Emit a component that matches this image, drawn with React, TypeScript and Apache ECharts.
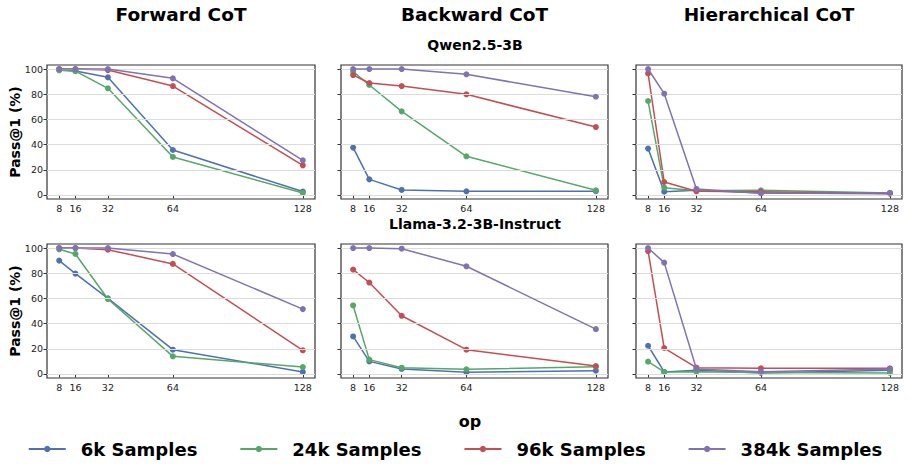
import React, { useEffect, useRef } from "react";
import * as echarts from "echarts";

// x positions (number of operations)
const opCounts = [8, 16, 32, 64, 128];
const yTicks = [0, 20, 40, 60, 80, 100];

const sampleSizes = ["6k Samples", "24k Samples", "96k Samples", "384k Samples"];
const palette = ["#4C72B0", "#55A868", "#C44E52", "#8172B2"];

const columnTitles = ["Forward CoT", "Backward CoT", "Hierarchical CoT"];
const rowTitles = ["Qwen2.5-3B", "Llama-3.2-3B-Instruct"];

// Pass@1 (%) per sample size: 6k, 24k, 96k, 384k
const qwenForward = [
  [99.5, 98.5, 93.4, 35.7, 2.7],
  [99.0, 98.3, 84.7, 30.2, 1.6],
  [100, 100, 99.2, 86.5, 23.5],
  [100, 100, 100, 92.6, 27.5],
];
const qwenBackward = [
  [37.6, 12.4, 4.0, 2.9, 3.0],
  [97.9, 87.3, 66.4, 30.7, 3.7],
  [95.2, 88.9, 86.5, 79.9, 53.9],
  [100, 100, 100, 95.8, 78.0],
];
const qwenHierarchical = [
  [36.8, 2.6, 3.7, 1.5, 1.0],
  [74.6, 5.8, 3.4, 3.7, 1.5],
  [96.5, 10.3, 2.9, 2.5, 1.2],
  [100, 80.4, 4.8, 1.3, 1.6],
];
const llamaForward = [
  [90.0, 79.7, 60.0, 19.3, 1.6],
  [99.0, 95.3, 59.5, 14.0, 5.5],
  [100, 100, 98.7, 87.4, 18.8],
  [100, 100, 100, 95.2, 51.5],
];
const llamaBackward = [
  [29.8, 10.0, 4.0, 1.3, 2.6],
  [54.4, 11.4, 5.0, 3.7, 5.8],
  [82.9, 72.6, 46.2, 19.3, 6.3],
  [100, 100, 99.5, 85.5, 35.6],
];
const llamaHierarchical = [
  [22.4, 1.6, 2.9, 0.8, 2.9],
  [9.8, 1.6, 1.8, 1.2, 0.8],
  [97.6, 20.6, 5.0, 4.5, 4.5],
  [100, 88.4, 4.0, 1.8, 4.0],
];

const panels = [
  qwenForward,
  qwenBackward,
  qwenHierarchical,
  llamaForward,
  llamaBackward,
  llamaHierarchical,
];

const FONT = "DejaVu Sans";
const colLeft = [47, 341, 636];
const colWidth = [268, 267, 266];
const rowTop = [65, 244];
const panelHeight = 134;

export default function App() {
  const ref = useRef<HTMLDivElement>(null);

  useEffect(() => {
    if (!ref.current) return;
    const chart = echarts.init(ref.current, null, { renderer: "svg" });

    const grids: any[] = [];
    const xAxes: any[] = [];
    const yAxes: any[] = [];
    const series: any[] = [];

    panels.forEach((panel, idx) => {
      const row = Math.floor(idx / 3);
      const col = idx % 3;
      grids.push({
        left: colLeft[col],
        top: rowTop[row],
        width: colWidth[col],
        height: panelHeight,
        show: true,
        borderColor: "#333",
        borderWidth: 1.2,
        backgroundColor: "transparent",
        outerBoundsMode: "none",
        containLabel: false,
      });
      xAxes.push({
        type: "value",
        gridIndex: idx,
        min: 2,
        max: 134,
        axisLine: { show: false },
        splitLine: { show: false },
        axisTick: {
          show: true,
          length: 3.5,
          customValues: opCounts,
          lineStyle: { color: "#333", width: 1 },
        },
        axisLabel: {
          show: true,
          customValues: opCounts,
          margin: 4,
          fontFamily: FONT,
          fontSize: 9.5,
          color: "#222",
        },
      });
      yAxes.push({
        type: "value",
        gridIndex: idx,
        min: -3.2,
        max: 103.2,
        axisLine: { show: false },
        splitLine: { show: false },
        axisTick: {
          show: true,
          length: 3.5,
          customValues: yTicks,
          lineStyle: { color: "#333", width: 1 },
        },
        axisLabel: {
          show: col === 0,
          customValues: yTicks,
          margin: 4,
          fontFamily: FONT,
          fontSize: 9.5,
          color: "#222",
        },
      });
      // horizontal gridlines
      series.push({
        type: "line",
        xAxisIndex: idx,
        yAxisIndex: idx,
        data: [],
        silent: true,
        z: 1,
        markLine: {
          silent: true,
          symbol: "none",
          label: { show: false },
          lineStyle: { color: "#dcdcdc", width: 1, type: "solid" },
          data: yTicks.map((v) => ({ yAxis: v })),
        },
      });
      panel.forEach((vals, s) => {
        series.push({
          type: "line",
          name: sampleSizes[s],
          xAxisIndex: idx,
          yAxisIndex: idx,
          data: opCounts.map((x, i) => [x, vals[i]]),
          symbol: "circle",
          symbolSize: 6,
          z: 2 + s,
          color: palette[s],
          lineStyle: { color: palette[s], width: 1.5 },
          itemStyle: { color: palette[s] },
        });
      });
    });

    const graphics: any[] = [];
    columnTitles.forEach((t, c) => {
      graphics.push({
        type: "text",
        x: colLeft[c] + colWidth[c] / 2,
        y: 14,
        style: {
          text: t,
          font: `bold 18.5px '${FONT}'`,
          fill: "#000",
          textAlign: "center",
          textVerticalAlign: "middle",
        },
      });
    });
    const rowTitleY = [45, 224];
    rowTitles.forEach((t, r) => {
      graphics.push({
        type: "text",
        x: 475,
        y: rowTitleY[r],
        style: {
          text: t,
          font: `bold 14px '${FONT}'`,
          fill: "#000",
          textAlign: "center",
          textVerticalAlign: "middle",
        },
      });
      graphics.push({
        type: "text",
        x: 15,
        y: rowTop[r] + panelHeight / 2,
        rotation: Math.PI / 2,
        style: {
          text: "Pass@1 (%)",
          font: `bold 14px '${FONT}'`,
          fill: "#000",
          textAlign: "center",
          textVerticalAlign: "middle",
        },
      });
    });
    graphics.push({
      type: "text",
      x: 470,
      y: 421,
      style: {
        text: "op",
        font: `bold 16px '${FONT}'`,
        fill: "#000",
        textAlign: "center",
        textVerticalAlign: "middle",
      },
    });

    chart.setOption({
      animation: false,
      backgroundColor: "#fff",
      grid: grids,
      xAxis: xAxes,
      yAxis: yAxes,
      series,
      graphic: graphics,
      legend: {
        data: sampleSizes,
        left: "center",
        top: 435,
        itemWidth: 37,
        itemHeight: 8,
        itemGap: 42,
        textStyle: {
          fontFamily: FONT,
          fontSize: 18,
          fontWeight: "bold",
          color: "#000",
          padding: [0, 0, 0, 10],
        },
      },
    });

    return () => chart.dispose();
  }, []);

  return (
    <div
      ref={ref}
      style={{ position: "absolute", left: 0, top: 0, width: 910, height: 464 }}
    />
  );
}
